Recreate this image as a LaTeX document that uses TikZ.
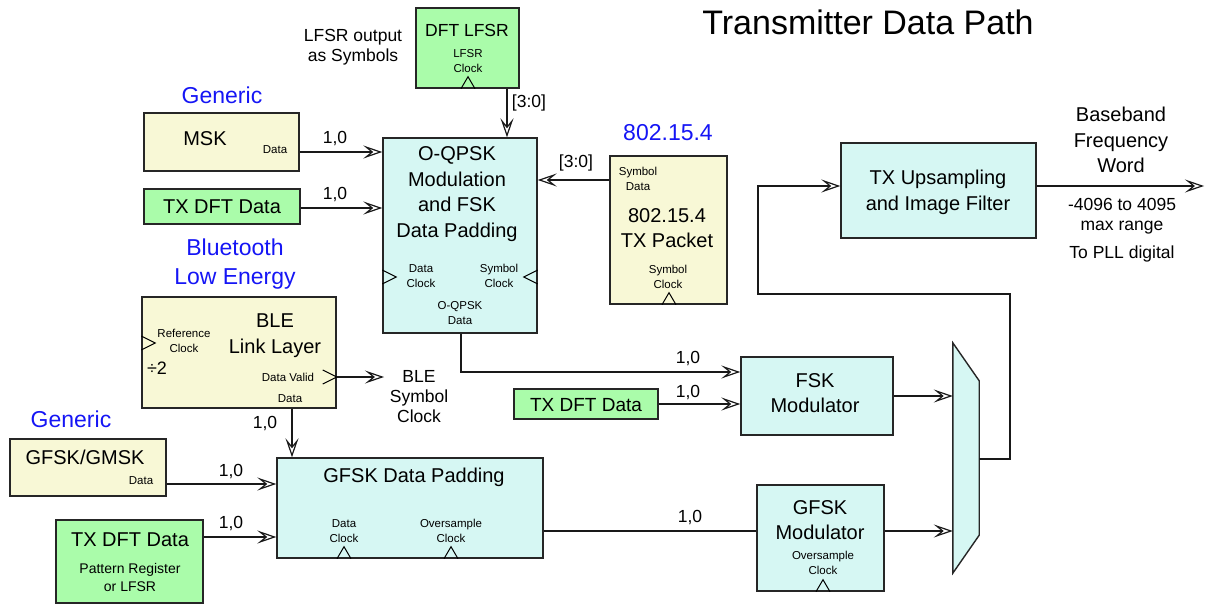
\documentclass[tikz,border=0pt]{standalone}
\usepackage{fontspec}
\setmainfont{Liberation Sans}
\usetikzlibrary{arrows.meta,calc}
\definecolor{cyanfill}{HTML}{D6F7F3}
\definecolor{yelfill}{HTML}{F8F8D6}
\definecolor{grnfill}{HTML}{AAFCAA}
\definecolor{bluetxt}{HTML}{1515F5}
\tikzset{
  clkU/.pic={\draw[line width=1pt] (-7,0) -- (0,-12) -- (7,0);},
  clkR/.pic={\draw[line width=1pt] (0,-7) -- (14,0) -- (0,7);},
  clkL/.pic={\draw[line width=1pt] (0,-7) -- (-14,0) -- (0,7);},
  clkO/.pic={\draw[line width=1pt] (-14,-7) -- (0,0) -- (-14,7);}
}
\begin{document}
\begin{tikzpicture}[x=1pt,y=-1pt,
  box/.style={draw=black!85, line width=1.4pt, inner sep=0pt},
  cyanbox/.style={box, fill=cyanfill},
  yelbox/.style={box, fill=yelfill},
  grnbox/.style={box, fill=grnfill},
  conn/.style={line width=1.2pt, draw=black!90},
  arr/.style={conn, -{Stealth[open, length=19pt, width=13pt, inset=8pt]}},
  tmain/.style={font=\fontsize{20}{25.7}\selectfont, align=center, inner sep=0pt},
  tsmall/.style={font=\fontsize{11.5}{15}\selectfont, align=center, inner sep=0pt},
  tmed/.style={font=\fontsize{17.5}{20}\selectfont, align=center, inner sep=0pt},
  tpat/.style={font=\fontsize{14}{18}\selectfont, align=center, inner sep=0pt},
  tblue/.style={font=\fontsize{23}{29}\selectfont, align=center, inner sep=0pt, text=bluetxt},
  ttitle/.style={font=\fontsize{34}{38}\selectfont, inner sep=0pt}
]
\useasboundingbox (0,0) rectangle (1205,604);

% ---------- boxes ----------
\node[grnbox, minimum width=103, minimum height=80] (lfsr) at (467.5,48) {};
\node[yelbox, minimum width=155, minimum height=58] (msk) at (221.5,142) {};
\node[grnbox, minimum width=156, minimum height=35] (dft1) at (222,206.5) {};
\node[cyanbox, minimum width=154, minimum height=195] (oqpsk) at (460,235.5) {};
\node[yelbox, minimum width=117, minimum height=148] (pkt) at (668.5,230) {};
\node[yelbox, minimum width=194, minimum height=111] (ble) at (239,352.5) {};
\node[yelbox, minimum width=156, minimum height=57] (gmsk) at (88,467.5) {};
\node[grnbox, minimum width=147, minimum height=83] (dft2) at (129.5,561.5) {};
\node[cyanbox, minimum width=266, minimum height=100] (gdp) at (410,508) {};
\node[grnbox, minimum width=144, minimum height=30] (dft3) at (586,404) {};
\node[cyanbox, minimum width=152, minimum height=78] (fsk) at (817,396) {};
\node[cyanbox, minimum width=127, minimum height=106] (gfskm) at (820.5,538) {};
\node[cyanbox, minimum width=195, minimum height=95] (ups) at (938.5,190.5) {};
\node[inner sep=0pt, minimum width=26, minimum height=230] (mux) at (966,458) {};
\draw[box, fill=cyanfill] (mux.north west) -- ($(mux.north east)+(0,38)$) -- ($(mux.south east)+(0,-38)$) -- (mux.south west) -- cycle;

% ---------- clock marks ----------
\pic at (lfsr.south -| 468,0) {clkU};
\pic at (oqpsk.west |- 0,277) {clkR};
\pic at (oqpsk.east |- 0,277) {clkL};
\pic at (pkt.south -| 669,0) {clkU};
\pic at (ble.west |- 0,343) {clkR};
\pic at (ble.east |- 0,377) {clkO};
\pic at (gdp.south -| 344,0) {clkU};
\pic at (gdp.south -| 451,0) {clkU};
\pic at (gfskm.south -| 823,0) {clkU};

% ---------- texts ----------
\node[ttitle] (title) at (868,22) {Transmitter Data Path};
\node[tmed] (lfsrout) at (353,47) {LFSR output\\as Symbols};
\node[tmain, font=\fontsize{17.5}{20}\selectfont] (lfsrT) at (467,30) {DFT LFSR};
\node[tsmall] (lfsrC) at (468,61) {LFSR\\Clock};
\node[tmed] (b1) at (529,103) {[3:0]};
\node[tblue] (gen1) at (222,95) {Generic};
\node[tmain] (mskT) at (205,139) {MSK};
\node[tsmall] (mskD) at (275,150) {Data};
\node[tmed] (l1) at (335,139) {1,0};
\node[tmed] (l2) at (335,195) {1,0};
\node[tmain] (dft1T) at (222,207) {TX DFT Data};
\node[tblue] (bt) at (235,264) {Bluetooth\\Low Energy};
\node[tblue] (ieee) at (668,133) {802.15.4};
\node[tmain] (oqT) at (457,194) {O-QPSK\\Modulation\\and FSK\\Data Padding};
\node[tsmall] (oqDC) at (421,276) {Data\\Clock};
\node[tsmall] (oqSC) at (499,276) {Symbol\\Clock};
\node[tsmall] (oqD) at (460,313) {O-QPSK\\Data};
\node[tsmall] (pktSD) at (638,179) {Symbol\\Data};
\node[tmain] (pktT) at (667,228) {802.15.4\\TX Packet};
\node[tsmall] (pktSC) at (668,277) {Symbol\\Clock};
\node[tmed] (b2) at (576,163) {[3:0]};
\node[tmain] (bleT) at (275,336) {BLE\\Link Layer};
\node[tsmall] (bleRC) at (184,341) {Reference\\Clock};
\node[tmed, font=\fontsize{18}{20}\selectfont] (div2) at (157,368) {÷2};
\node[tsmall] (bleDV) at (288,377) {Data Valid};
\node[tsmall] (bleD) at (290,399) {Data};
\node[tmed] (bleSC) at (419,397) {BLE\\Symbol\\Clock};
\node[tmed] (l3) at (265,424) {1,0};
\node[tblue] (gen2) at (71,419) {Generic};
\node[tmain] (gmskT) at (85,457) {GFSK/GMSK};
\node[tsmall] (gmskD) at (141,481) {Data};
\node[tmed] (l4) at (231,472) {1,0};
\node[tmed] (l5) at (231,524) {1,0};
\node[tmain] (dft2T) at (130,540) {TX DFT Data};
\node[tpat] (dft2P) at (130,577) {Pattern Register\\or LFSR};
\node[tmain] (gdpT) at (414,477) {GFSK Data Padding};
\node[tsmall] (gdpDC) at (344,531) {Data\\Clock};
\node[tsmall] (gdpOC) at (451,531) {Oversample\\Clock};
\node[tmed] (l6) at (688,359) {1,0};
\node[tmed] (l7) at (688,393) {1,0};
\node[tmain, font=\fontsize{19}{24}\selectfont] (dft3T) at (586,405) {TX DFT Data};
\node[tmain] (fskT) at (815,393) {FSK\\Modulator};
\node[tmed] (l8) at (690,518) {1,0};
\node[tmain] (gfskT) at (820,520) {GFSK\\Modulator};
\node[tsmall] (gfskOC) at (823,563) {Oversample\\Clock};
\node[tmain] (upsT) at (938,192) {TX Upsampling\\and Image Filter};
\node[tmain] (bb) at (1121,140) {Baseband\\Frequency\\Word};
\node[tmed] (rng) at (1122,216) {-4096 to 4095\\max range};
\node[tmed] (pll) at (1122,254) {To PLL digital};

% ---------- connectors ----------
\coordinate (bleout) at (384,377);
\coordinate (txout) at (1204,186);
\draw[arr] (lfsr.south -| 507,0) -- (oqpsk.north -| 507,0);
\draw[arr] (msk.east |- 0,152) -- (oqpsk.west |- 0,152);
\draw[arr] (dft1.east |- 0,208) -- (oqpsk.west |- 0,208);
\draw[arr] (pkt.west |- 0,180) -- (oqpsk.east |- 0,180);
\draw[arr] (oqpsk.south -| 461,0) |- (fsk.west |- 0,372);
\draw[arr] (dft3.east) -- (fsk.west |- dft3.east);
\draw[arr] (fsk.east) -- (mux.west |- fsk.east);
\draw[arr] (gfskm.east |- 0,531) -- (mux.west |- 0,531);
\draw[conn] (gdp.east |- 0,531) -- (gfskm.west |- 0,531);
\draw[arr] (mux.east |- 0,459) -| (1010,294) -- (758,294) |- (ups.west |- 0,186);
\draw[arr] (ups.east |- 0,186) -- (txout);
\draw[arr] (ble.east |- 0,377) -- (bleout);
\draw[arr] (ble.south -| 292,0) -- (gdp.north -| 292,0);
\draw[arr] (gmsk.east |- 0,484) -- (gdp.west |- 0,484);
\draw[arr] (dft2.east |- 0,537) -- (gdp.west |- 0,537);
\end{tikzpicture}
\end{document}
